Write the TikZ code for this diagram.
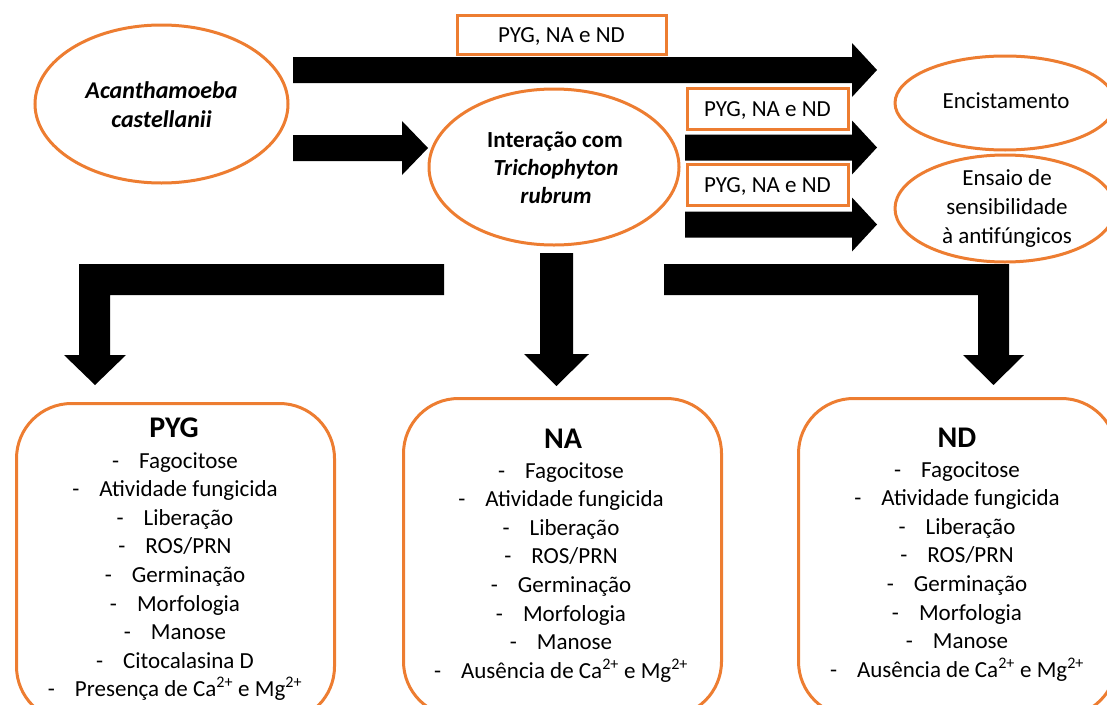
\documentclass[tikz,border=0pt]{standalone}
\usepackage{fontspec}
\setmainfont{Carlito}
\usetikzlibrary{shapes.geometric}
\definecolor{orng}{HTML}{ED7D31}
\newcommand\blockarrowH[4]{%
  \fill[black] (#1,#4-13) -- (#2,#4-13) -- (#2,#4-27) -- (#3,#4) -- (#2,#4+27) -- (#2,#4+13) -- (#1,#4+13) -- cycle;}
\begin{document}
\begin{tikzpicture}[x=1pt,y=-1pt,
  oline/.style={draw=orng,line width=3pt},
  oval/.style={oline,ellipse,inner sep=0pt},
  lbl/.style={draw=orng,line width=3pt,rectangle,inner sep=0pt,text height=15pt,text depth=0pt,font=\fontsize{23}{28}\selectfont},
  txt/.style={anchor=base,inner sep=0pt,font=\fontsize{23}{28}\selectfont},
  ttl/.style={anchor=base,inner sep=0pt,font=\bfseries\fontsize{30}{34}\selectfont},
  card/.style={oline,rectangle,rounded corners=55pt,anchor=north west,minimum width=318pt,minimum height=318pt,inner sep=0pt}]

\useasboundingbox (0,0) rectangle (1107,704);
\clip (0,0) rectangle (1107,704);

% ellipses
\node[oval,minimum width=253pt,minimum height=158pt] (acan) at (161.5,104) {};
\node[oval,minimum width=250pt,minimum height=156pt] (inter) at (554,167) {};
\node[oval,minimum width=220pt,minimum height=94pt] (enc) at (1005,103) {};
\node[oval,minimum width=220pt,minimum height=107pt] (ens) at (1005,208.5) {};

% ellipse texts
\node[txt,font=\bfseries\itshape\fontsize{24}{28}\selectfont] (acan1) at (161.5,98) {Acanthamoeba};
\node[txt,font=\bfseries\itshape\fontsize{24}{28}\selectfont] (acan2) at (161.5,127) {castellanii};
\node[txt,font=\bfseries\fontsize{23}{28}\selectfont] (inter1) at (555,147) {Interação com};
\node[txt,font=\bfseries\itshape\fontsize{23}{28}\selectfont] (inter2) at (556,175) {Trichophyton};
\node[txt,font=\bfseries\itshape\fontsize{23}{28}\selectfont] (inter3) at (556,203) {rubrum};
\node[txt] (enc1) at (1006,108) {Encistamento};
\node[txt] (ens1) at (1007,185) {Ensaio de};
\node[txt] (ens2) at (1007,214) {sensibilidade};
\node[txt] (ens3) at (1007,243) {à antifúngicos};

% labels
\node[lbl,minimum width=209pt,minimum height=39pt] (l1) at (561.5,34.5) {PYG, NA e ND};
\node[lbl,minimum width=161pt,minimum height=41pt] (l2) at (767.5,108.5) {PYG, NA e ND};
\node[lbl,minimum width=161pt,minimum height=41pt] (l3) at (767.5,184.5) {PYG, NA e ND};

% block arrows
\blockarrowH{293}{852}{877}{70}
\blockarrowH{293}{402}{428}{148}
\blockarrowH{685}{852}{877}{147.5}
\blockarrowH{685}{852}{877}{224.5}

\fill[black] (444,264) -- (79,264) -- (79,355) -- (64,355) -- (95,385) -- (126,355) -- (110,355) -- (110,295) -- (444,295) -- cycle;
\fill[black] (540,253) -- (573,253) -- (573,354) -- (589,354) -- (556.5,386) -- (524,354) -- (540,354) -- cycle;
\fill[black] (664,264) -- (1009,264) -- (1009,355) -- (1024,355) -- (993.5,385) -- (963,355) -- (978,355) -- (978,295) -- (664,295) -- cycle;

% cards
\node[card] (pyg) at (15,402) {};
\node[card] (na) at (402,397) {};
\node[card] (nd) at (797,397) {};

\node[ttl] (pygT) at (174,437) {PYG};
\node[ttl] (naT) at (563,448) {NA};
\node[ttl] (ndT) at (957,447) {ND};

\foreach \t [count=\i from 0] in {Fagocitose,Atividade fungicida,Liberação,ROS/PRN,Germinação,Morfologia,Manose,Citocalasina D,{Presença de Ca\textsuperscript{2+} e Mg\textsuperscript{2+}}}
  \node[txt] (pyg\i) at (175,468+28.6*\i) {-\hspace{20pt}\t};

\foreach \t [count=\i from 0] in {Fagocitose,Atividade fungicida,Liberação,ROS/PRN,Germinação,Morfologia,Manose,{Ausência de Ca\textsuperscript{2+} e Mg\textsuperscript{2+}}}
  \node[txt] (na\i) at (561,478+28.6*\i) {-\hspace{20pt}\t};

\foreach \t [count=\i from 0] in {Fagocitose,Atividade fungicida,Liberação,ROS/PRN,Germinação,Morfologia,Manose,{Ausência de Ca\textsuperscript{2+} e Mg\textsuperscript{2+}}}
  \node[txt] (nd\i) at (957,477+28.6*\i) {-\hspace{20pt}\t};

\end{tikzpicture}
\end{document}
